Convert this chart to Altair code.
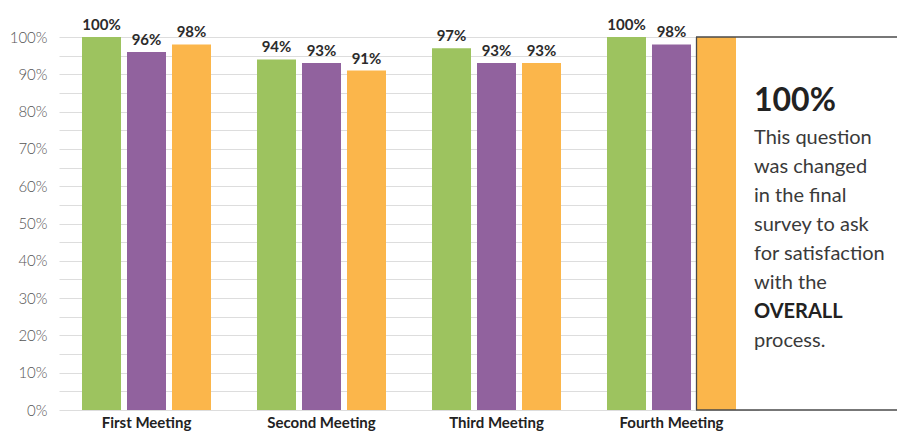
import altair as alt
import pandas as pd

# ---------------- data ----------------
meetings = ["First Meeting", "Second Meeting", "Third Meeting", "Fourth Meeting"]
series = ["Group A", "Group B", "Group C"]
green_vals = [100, 94, 97, 100]
purple_vals = [96, 93, 93, 98]
orange_vals = [98, 91, 93, 100]
colors = ["#9dc35f", "#91629e", "#fbb64b"]
y_ticks = list(range(0, 101, 5))

note_title = "100%"
note_lines = ["This question", "was changed", "in the final", "survey to ask",
              "for satisfaction", "with the"]
note_bold = "OVERALL"
note_end = "process."

# ---------------- layout ----------------
FONT = "Lato"
W, H = 835, 373
band_start, step = -3, 175
sub_pi, sub_po = 0.1333, 0.511
sub_step = step / (3 - sub_pi + 2 * sub_po)
box_left = band_start + 3 * step + sub_po * sub_step + 2 * sub_step
text_x = 692
line_h = 29
BORDER = "#4a4a4a"

rows = []
for vals, s in zip([green_vals, purple_vals, orange_vals], series):
    for m, v in zip(meetings, vals):
        rows.append({"meeting": m, "series": s, "value": v, "label": f"{v}%"})
df = pd.DataFrame(rows)

x_enc = alt.X("meeting:N", sort=meetings,
              scale=alt.Scale(domain=meetings, range=[band_start, band_start + 4 * step],
                              paddingInner=0, paddingOuter=0),
              axis=alt.Axis(title=None, ticks=False, domain=False, labelAngle=0,
                            labelFont=FONT, labelFontWeight="bold", labelFontSize=15,
                            labelColor="#222222", labelPadding=17,
                            labelBaseline="alphabetic", grid=False))
xo_enc = alt.XOffset("series:N", sort=series,
                     scale=alt.Scale(domain=series, paddingInner=sub_pi, paddingOuter=sub_po))
y_enc = alt.Y("value:Q", scale=alt.Scale(domain=[0, 100], nice=False),
              axis=alt.Axis(title=None, values=y_ticks, ticks=False, domain=False,
                            labelExpr="datum.value % 10 == 0 ? datum.value + '%' : ''",
                            labelFont=FONT, labelFontSize=15, labelFontWeight=300,
                            labelColor="#555555", labelPadding=15,
                            gridColor="#dddddd", gridWidth=1))

base = alt.Chart(df).encode(x=x_enc, xOffset=xo_enc, y=y_enc)

bars = base.mark_bar().encode(
    color=alt.Color("series:N", scale=alt.Scale(domain=series, range=colors), legend=None)
)
# the last bar's value is given in the note box instead of above the bar
labels = base.transform_filter(
    f"!(datum.meeting == '{meetings[-1]}' && datum.series == '{series[-1]}')"
).mark_text(baseline="bottom", dy=-4, font=FONT, fontWeight="bold",
            fontSize=15, color="#2b2b2b").encode(text="label:N")

one = pd.DataFrame({"k": [0]})
box_fill = alt.Chart(one).mark_rect(fill="white").encode(
    x=alt.value(box_left), x2=alt.value(W + 30), y=alt.value(0), y2=alt.value(H))
edge_left = alt.Chart(one).mark_rule(color=BORDER, strokeWidth=1.3).encode(
    x=alt.value(box_left - 0.5), y=alt.value(0), y2=alt.value(H))
edge_top = alt.Chart(one).mark_rule(color=BORDER, strokeWidth=1.3).encode(
    x=alt.value(box_left - 1), x2=alt.value(W + 30), y=alt.value(0))
edge_bottom = alt.Chart(one).mark_rule(color=BORDER, strokeWidth=1.3).encode(
    x=alt.value(box_left - 1), x2=alt.value(W + 30), y=alt.value(H))

t_title = alt.Chart(one).mark_text(align="left", baseline="alphabetic", font=FONT,
                                   fontWeight="bold", fontSize=32, color="#222222").encode(
    x=alt.value(text_x), y=alt.value(74), text=alt.value(note_title))
t_body = alt.Chart(one).mark_text(align="left", baseline="alphabetic", font=FONT,
                                  fontSize=20, lineHeight=line_h, color="#3a3a3a").encode(
    x=alt.value(text_x), y=alt.value(107), text=alt.value(note_lines))
t_bold = alt.Chart(one).mark_text(align="left", baseline="alphabetic", font=FONT,
                                  fontWeight="bold", fontSize=20, color="#222222").encode(
    x=alt.value(text_x), y=alt.value(107 + line_h * len(note_lines)), text=alt.value(note_bold))
t_end = alt.Chart(one).mark_text(align="left", baseline="alphabetic", font=FONT,
                                 fontSize=20, color="#3a3a3a").encode(
    x=alt.value(text_x), y=alt.value(107 + line_h * (len(note_lines) + 1)), text=alt.value(note_end))

chart = alt.layer(box_fill, bars, edge_left, edge_top, edge_bottom, labels,
                  t_title, t_body, t_bold, t_end).properties(
    width=W, height=H,
    autosize=alt.AutoSizeParams(type="none"),
    padding={"left": 54, "top": 29, "right": 0, "bottom": 21},
    background="white",
).configure_view(stroke=None)

chart.save("out.html", embed_options={"renderer": "svg", "actions": False})
